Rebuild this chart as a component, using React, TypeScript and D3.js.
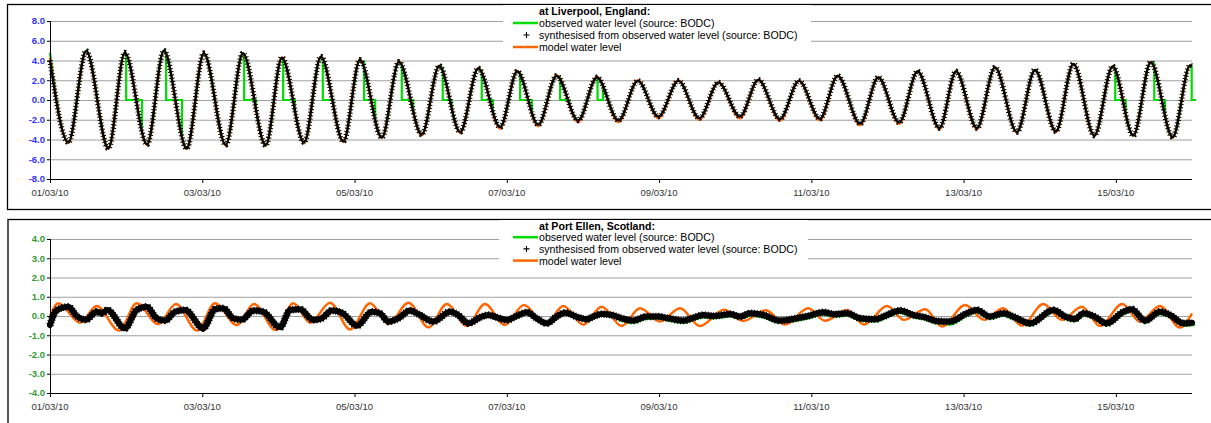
import React, { useEffect, useRef } from 'react';
import * as d3 from 'd3';

const WIDTH = 1211;
const HEIGHT = 423;
const START = Date.UTC(2010, 2, 1);
const END = Date.UTC(2010, 2, 16);
const PLOT_LEFT = 50;
const PLOT_RIGHT = 1192;

const GREEN = '#00dd00';
const ORANGE = '#ff6600';
const FONT = '"Liberation Sans", Arial, sans-serif';

const legendLabels = [
    'observed water level (source: BODC)',
    'synthesised from observed water level (source: BODC)',
    'model water level'
];

const liverpoolTicks = [-8, -6, -4, -2, 0, 2, 4, 6, 8];
const portEllenTicks = [-4, -3, -2, -1, 0, 1, 2, 3, 4];

// Liverpool: hours after 01/03/10 00:00 of each high / low water, levels in m
const liverpoolHours = [
    0, 5.8, 11.4, 18.4, 23.6, 30.6, 35.9, 43.1, 48.5, 55.4, 60.8, 68.0, 73.1, 80.1, 85.4,
    92.5, 97.7, 104.6, 110.0, 117.2, 122.7, 129.3, 135.0, 141.9, 147.3, 153.9, 159.7, 166.5, 172.4,
    179.2, 185.3, 191.8, 198.1, 204.7, 210.7, 217.5, 223.3, 230.1, 236.1, 242.7, 248.3, 255.4, 261.1,
    267.7, 273.5, 280.4, 285.6, 292.2, 297.9, 304.8, 310.5, 317.1, 322.6, 329.2, 335.0, 341.5, 347.0,
    353.9, 359.4, 360
];
const liverpoolSynth = [
    4.0, -4.3, 4.97, -4.9, 4.8, -4.5, 5.0, -4.9, 4.75, -4.55, 4.75, -4.6, 4.3, -4.3, 4.4,
    -4.2, 4.07, -3.8, 3.87, -3.5, 3.46, -3.25, 3.2, -2.75, 2.9, -2.5, 2.45, -2.07, 2.3,
    -2.07, 1.95, -1.67, 1.95, -1.83, 1.77, -1.67, 2.05, -1.93, 1.95, -1.9, 2.45, -2.4, 2.3,
    -2.28, 2.9, -2.85, 2.9, -2.85, 3.3, -3.25, 3.06, -3.19, 3.67, -3.6, 3.4, -3.6, 3.84,
    -3.76, 3.5, 3.45
];
const liverpoolObserved = [
    4.8, -4.35, 4.97, -4.9, 4.8, -4.55, 5.0, -4.95, 4.75, -4.6, 4.75, -4.65, 4.3, -4.4, 4.4,
    -4.25, 4.07, -3.85, 3.87, -3.55, 3.46, -3.3, 3.2, -2.8, 2.9, -2.55, 2.45, -2.1, 2.3,
    -2.1, 1.95, -1.75, 1.95, -1.9, 1.77, -1.75, 2.05, -1.95, 1.95, -1.95, 2.45, -2.4, 2.3,
    -2.3, 2.9, -2.85, 2.9, -2.85, 3.3, -3.25, 3.06, -3.2, 3.67, -3.65, 3.4, -3.65, 3.84,
    -3.8, 3.5, 3.45
];
const liverpoolModel = [
    4.3, -4.35, 4.95, -4.95, 4.8, -4.55, 4.95, -4.95, 4.75, -4.6, 4.7, -4.6, 4.3, -4.35, 4.4,
    -4.25, 4.1, -3.85, 3.9, -3.6, 3.5, -3.35, 3.25, -2.9, 2.95, -2.65, 2.5, -2.25, 2.35,
    -2.25, 2.0, -1.85, 2.0, -2.0, 1.8, -1.85, 2.05, -2.1, 1.95, -2.05, 2.45, -2.55, 2.3,
    -2.4, 2.9, -2.95, 2.9, -2.95, 3.3, -3.3, 3.05, -3.25, 3.65, -3.65, 3.4, -3.6, 3.85,
    -3.8, 3.5, 3.45
];
// stretches where the observed record falls to 0
const liverpoolGapStart = [24.0, 36.6, 61.2, 73.5, 86.0, 99.0, 110.9, 123.8, 136.1, 148.2, 160.8, 172.6, 335.8, 348.1, 359.9];
const liverpoolGapEnd = [29.0, 41.6, 64.9, 77.2, 89.3, 102.5, 114.5, 126.6, 139.6, 151.9, 163.7, 174.3, 339.1, 351.5, 361.3];
const liverpoolGapFrom = [4.7, 4.9, 4.7, 4.25, 4.35, 4.0, 3.8, 3.4, 3.15, 2.85, 2.4, 2.25, 3.35, 3.8, 3.5];
const liverpoolGapTo = [-3.0, -3.7, -1.1, -1.3, -0.6, -2.1, -1.3, -0.8, -1.2, -1.3, -0.4, 1.3, -1.6, -1.7, 0];

// Port Ellen: [hours after 01/03/10 00:00, level in m]
const portEllenSynth: [number, number][] = [
    [0, -0.47], [2.1, 0.31], [5.8, 0.48], [8.4, 0.0], [11.3, -0.2], [14.7, 0.22], [16.3, 0.14], [18.1, 0.31],
    [23.6, -0.64], [27.3, 0.31], [30.5, 0.48], [33.6, -0.12], [36.3, -0.24], [39.4, 0.22], [42.6, 0.31], [48.3, -0.64],
    [52.0, 0.35], [54.6, 0.40], [57.8, -0.12], [60.4, -0.2], [64.1, 0.28], [67.2, 0.22], [72.5, -0.59], [75.7, 0.31],
    [78.8, 0.35], [83.0, -0.21], [85.7, -0.12], [88.8, 0.28], [92.0, 0.17], [96.8, -0.5], [101.4, 0.22], [104.0, 0.14],
    [106.7, -0.29], [109.8, -0.12], [113.5, 0.28], [116.1, 0.10], [120.8, -0.29], [126.1, 0.22], [128.7, 0.05], [131.9, -0.38],
    [135.6, -0.07], [138.2, 0.05], [140.8, -0.07], [144.0, -0.21], [147.1, 0.0], [150.3, 0.19], [153.4, -0.12], [156.6, -0.38],
    [159.7, -0.03], [162.4, 0.17], [166.5, -0.07], [169.2, -0.17], [171.3, -0.03], [173.9, 0.10], [177.1, 0.05], [180.2, -0.12],
    [183.9, -0.24], [188.1, -0.03], [191.8, -0.03], [194.9, -0.12], [199.7, -0.24], [202.3, -0.12], [206.0, 0.05], [209.1, 0.0],
    [211.8, 0.05], [214.4, 0.10], [217.5, -0.03], [220.7, 0.14], [224.9, 0.05], [230.1, -0.24], [235.4, -0.12], [239.0, 0.0],
    [243.8, 0.19], [247.5, 0.09], [251.2, 0.14], [255.4, -0.12], [260.1, -0.17], [262.7, -0.03], [268.0, 0.28], [272.2, 0.05],
    [275.9, -0.07], [279.5, -0.26], [283.7, -0.29], [289.0, 0.14], [292.2, 0.31], [296.3, -0.03], [300.5, 0.14], [303.6, -0.03],
    [309.0, -0.38], [316.3, 0.31], [320.0, -0.03], [323.1, -0.15], [325.8, 0.14], [328.9, 0.0], [333.1, -0.38], [338.4, 0.22],
    [341.0, 0.35], [345.2, -0.24], [349.9, 0.22], [353.1, 0.05], [357.3, -0.38], [360.0, -0.35]
];
const portEllenObserved: [number, number][] = [
    [0, -0.47], [2.1, 0.31], [5.8, 0.48], [8.4, 0.0], [11.3, -0.2], [14.7, 0.22], [16.3, 0.14], [18.1, 0.31],
    [23.6, -0.64], [27.3, 0.31], [30.5, 0.48], [33.6, -0.12], [36.3, -0.24], [39.4, 0.22], [42.6, 0.31], [48.3, -0.64],
    [52.0, 0.35], [54.6, 0.40], [57.8, -0.12], [60.4, -0.2], [64.1, 0.28], [67.2, 0.22], [72.5, -0.6], [75.7, 0.3],
    [78.8, 0.29], [83.0, -0.27], [85.7, -0.18], [88.8, 0.22], [92.0, 0.11], [96.8, -0.58], [101.4, 0.16], [104.0, 0.08],
    [106.7, -0.35], [109.8, -0.18], [113.5, 0.22], [116.1, 0.04], [120.8, -0.35], [126.1, 0.16], [128.7, -0.01], [131.9, -0.44],
    [135.6, -0.13], [138.2, -0.01], [140.8, -0.13], [144.0, -0.27], [147.1, -0.06], [150.3, 0.13], [153.4, -0.18], [156.6, -0.44],
    [159.7, -0.09], [162.4, 0.11], [166.5, -0.13], [169.2, -0.23], [171.3, -0.09], [173.9, 0.04], [177.1, -0.03], [180.2, -0.24],
    [183.9, -0.36], [188.1, -0.15], [191.8, -0.15], [194.9, -0.24], [199.7, -0.36], [202.3, -0.24], [206.0, -0.07], [209.1, -0.12],
    [211.8, -0.07], [214.4, -0.02], [217.5, -0.15], [220.7, 0.02], [224.9, -0.07], [230.1, -0.36], [235.4, -0.24], [239.0, -0.12],
    [243.8, 0.07], [247.5, -0.03], [251.2, 0.02], [255.4, -0.24], [260.1, -0.29], [262.7, -0.15], [268.0, 0.16], [272.2, -0.07],
    [275.9, -0.19], [279.5, -0.38], [283.7, -0.45], [289.0, 0.02], [292.2, 0.19], [296.3, -0.15], [300.5, 0.02], [303.6, -0.15],
    [309.0, -0.5], [316.3, 0.19], [320.0, -0.15], [323.1, -0.27], [325.8, 0.02], [328.9, -0.12], [333.1, -0.5], [338.4, 0.1],
    [341.0, 0.23], [345.2, -0.36], [349.9, 0.1], [353.1, -0.07], [357.3, -0.5], [361.0, -0.45]
];
const portEllenModel: [number, number][] = [
    [0, 0.0], [2.6, 0.66], [9.5, -0.35], [14.7, 0.52], [21.8, -0.76], [27.3, 0.66], [34.1, -0.42], [39.7, 0.62],
    [46.4, -0.76], [52.0, 0.66], [58.9, -0.47], [64.3, 0.62], [71.2, -0.73], [76.7, 0.66], [82.0, -0.35], [88.3, 0.69],
    [94.6, -0.7], [100.9, 0.66], [106.7, -0.42], [113.0, 0.69], [119.3, -0.59], [125.1, 0.62], [131.4, -0.52], [137.1, 0.62],
    [143.4, -0.47], [149.4, 0.57], [156.1, -0.45], [161.8, 0.52], [168.1, -0.45], [173.9, 0.48], [180.2, -0.52], [186.0, 0.40],
    [192.3, -0.29], [198.6, 0.40], [204.9, -0.52], [212.5, 0.33], [218.5, -0.26], [225.7, 0.30], [231.7, -0.45], [239.0, 0.40],
    [244.3, -0.25], [251.3, 0.31], [256.6, -0.45], [263.9, 0.52], [269.2, -0.2], [275.9, 0.35], [281.2, -0.55], [288.5, 0.57],
    [294.5, -0.2], [300.4, 0.40], [306.4, -0.5], [313.1, 0.62], [319.0, -0.2], [325.3, 0.48], [331.0, -0.52], [338.0, 0.62],
    [343.6, -0.3], [349.9, 0.52], [356.2, -0.6], [360.0, 0.14]
];

const hourToDate = (h: number) => new Date(START + h * 3600 * 1000);

const panels = [
    {
        id: 'liv',
        frame: { x: 7.5, y: 4.5, h: 205 },
        plotTop: 21,
        plotBottom: 179,
        domain: [-8, 8],
        ticks: liverpoolTicks,
        tickColor: '#3333ff',
        title: 'at Liverpool, England:',
        legendBox: { x: 503, y: 5, w: 308, h: 51 },
        legendTop: 15,
        legendStep: 12,
        observed: d3.zip(liverpoolHours, liverpoolObserved) as [number, number][],
        synth: d3.zip(liverpoolHours, liverpoolSynth) as [number, number][],
        model: d3.zip(liverpoolHours, liverpoolModel) as [number, number][],
        gaps: liverpoolGapStart.map((s, i) => ({ s, e: liverpoolGapEnd[i], from: liverpoolGapFrom[i], to: liverpoolGapTo[i] })),
        thickSynth: false
    },
    {
        id: 'pe',
        frame: { x: 8, y: 219.5, h: 220 },
        plotTop: 239,
        plotBottom: 393,
        domain: [-4, 4],
        ticks: portEllenTicks,
        tickColor: '#339933',
        title: 'at Port Ellen, Scotland:',
        legendBox: { x: 499, y: 220, w: 309, h: 48 },
        legendTop: 229.5,
        legendStep: 11.7,
        observed: portEllenObserved,
        synth: portEllenSynth,
        model: portEllenModel,
        gaps: [] as { s: number; e: number; from: number; to: number }[],
        thickSynth: true
    }
];

const App = () => {
    const svgRef = useRef<SVGSVGElement>(null);

    useEffect(() => {
        if (!svgRef.current) return;
        const svg = d3.select(svgRef.current);
        svg.selectAll('*').remove();

        const x = d3.scaleUtc().domain([START, END]).range([PLOT_LEFT, PLOT_RIGHT]);
        const xTicks = x.ticks(d3.utcDay.every(2)!);
        const fmt = d3.utcFormat('%d/%m/%y');

        panels.forEach((p) => {
            const g = svg.append('g');
            const y = d3.scaleLinear().domain(p.domain).range([p.plotBottom, p.plotTop]);
            const line = d3.line<[number, number]>()
                .x(d => x(hourToDate(d[0])))
                .y(d => y(d[1]))
                .curve(d3.curveMonotoneX);

            // frame
            g.append('rect')
                .attr('x', p.frame.x).attr('y', p.frame.y)
                .attr('width', WIDTH).attr('height', p.frame.h)
                .attr('fill', 'white').attr('stroke', '#000').attr('stroke-width', 1.3);

            // gridlines
            g.append('g').selectAll('line')
                .data(p.ticks.slice(1))
                .join('line')
                .attr('x1', PLOT_LEFT).attr('x2', PLOT_RIGHT)
                .attr('y1', d => y(d) + 0.5).attr('y2', d => y(d) + 0.5)
                .attr('stroke', '#a0a0a0').attr('stroke-width', 1.2);

            // legend
            const lb = p.legendBox;
            const legend = g.append('g');
            legend.append('rect').attr('x', lb.x).attr('y', lb.y).attr('width', lb.w).attr('height', lb.h).attr('fill', 'white');
            legend.append('text')
                .attr('x', 539).attr('y', p.legendTop)
                .attr('font-weight', 'bold')
                .text(p.title);
            legendLabels.forEach((label, i) => {
                const cy = p.legendTop + (i + 1) * p.legendStep;
                legend.append('text').attr('x', 539).attr('y', cy).text(label);
                const my = cy - 4;
                if (i === 1) {
                    legend.append('path')
                        .attr('d', `M${523.5},${my}h6M${526.5},${my - 3}v6`)
                        .attr('stroke', '#000').attr('stroke-width', 1.1);
                } else {
                    legend.append('line')
                        .attr('x1', 513).attr('x2', 538).attr('y1', my).attr('y2', my)
                        .attr('stroke', i === 0 ? GREEN : ORANGE).attr('stroke-width', 2.5);
                }
            });
            legend.selectAll('text')
                .attr('font-family', FONT).attr('font-size', 10.6).attr('fill', '#000');

            // observed record, with the stretches logged as 0
            const clipId = `obs-clip-${p.id}`;
            const clip = g.append('clipPath').attr('id', clipId);
            let from = 0;
            p.gaps.forEach((gap) => {
                clip.append('rect')
                    .attr('x', from).attr('y', 0)
                    .attr('width', Math.max(0, x(hourToDate(gap.s)) - from)).attr('height', HEIGHT);
                from = x(hourToDate(gap.e));
            });
            clip.append('rect').attr('x', from).attr('y', 0).attr('width', WIDTH - from).attr('height', HEIGHT);

            g.append('path')
                .datum(p.observed)
                .attr('clip-path', `url(#${clipId})`)
                .attr('fill', 'none').attr('stroke', GREEN).attr('stroke-width', 2.2)
                .attr('d', line);

            g.append('g').selectAll('path')
                .data(p.gaps)
                .join('path')
                .attr('d', d => `M${x(hourToDate(d.s))},${y(d.from)}V${y(0)}H${x(hourToDate(d.e))}V${y(d.to)}`)
                .attr('fill', 'none').attr('stroke', GREEN).attr('stroke-width', 2.2);

            // model
            g.append('path')
                .datum(p.model)
                .attr('fill', 'none').attr('stroke', ORANGE).attr('stroke-width', 2.4)
                .attr('d', line);

            // synthesised (+ markers)
            if (p.thickSynth) {
                g.append('path').datum(p.synth)
                    .attr('fill', 'none').attr('stroke', '#000').attr('stroke-width', 6)
                    .attr('stroke-linejoin', 'round').attr('stroke-linecap', 'round')
                    .attr('d', line);
                g.append('path').datum(p.synth)
                    .attr('fill', 'none').attr('stroke', '#000').attr('stroke-width', 7.5)
                    .attr('stroke-dasharray', '1 1.8')
                    .attr('d', line);
            } else {
                g.append('path').datum(p.synth)
                    .attr('fill', 'none').attr('stroke', '#000').attr('stroke-width', 2.2)
                    .attr('d', line);
                g.append('path').datum(p.synth)
                    .attr('fill', 'none').attr('stroke', '#000').attr('stroke-width', 5.5)
                    .attr('stroke-dasharray', '1 2.2')
                    .attr('d', line);
            }

            // axes
            const axisY = g.append('g').attr('transform', `translate(${PLOT_LEFT},0)`);
            axisY.append('line')
                .attr('x1', 0.5).attr('x2', 0.5).attr('y1', p.plotTop).attr('y2', p.plotBottom)
                .attr('stroke', '#000');
            p.ticks.forEach((t) => {
                axisY.append('line')
                    .attr('x1', -3).attr('x2', 0).attr('y1', y(t) + 0.5).attr('y2', y(t) + 0.5)
                    .attr('stroke', '#000');
                axisY.append('text')
                    .attr('x', -5).attr('y', y(t)).attr('dy', '0.35em')
                    .attr('text-anchor', 'end')
                    .attr('font-family', FONT).attr('font-size', 9.5).attr('font-weight', 'bold')
                    .attr('fill', p.tickColor)
                    .text(t.toFixed(1));
            });

            const axisX = g.append('g').attr('transform', `translate(0,${p.plotBottom})`);
            axisX.append('line')
                .attr('x1', PLOT_LEFT).attr('x2', PLOT_RIGHT).attr('y1', 0.5).attr('y2', 0.5)
                .attr('stroke', '#000');
            xTicks.forEach((t) => {
                axisX.append('line')
                    .attr('x1', x(t) + 0.5).attr('x2', x(t) + 0.5).attr('y1', 0).attr('y2', 4)
                    .attr('stroke', '#000');
                axisX.append('text')
                    .attr('x', x(t)).attr('y', 17)
                    .attr('text-anchor', 'middle')
                    .attr('font-family', FONT).attr('font-size', 9.5)
                    .attr('fill', '#333')
                    .text(fmt(t));
            });
        });
    }, []);

    return (
        <div style={{ position: 'fixed', left: 0, top: 0, width: WIDTH, height: HEIGHT, background: 'white' }}>
            <svg ref={svgRef} width={WIDTH} height={HEIGHT} style={{ display: 'block' }} />
        </div>
    );
};

export default App;
